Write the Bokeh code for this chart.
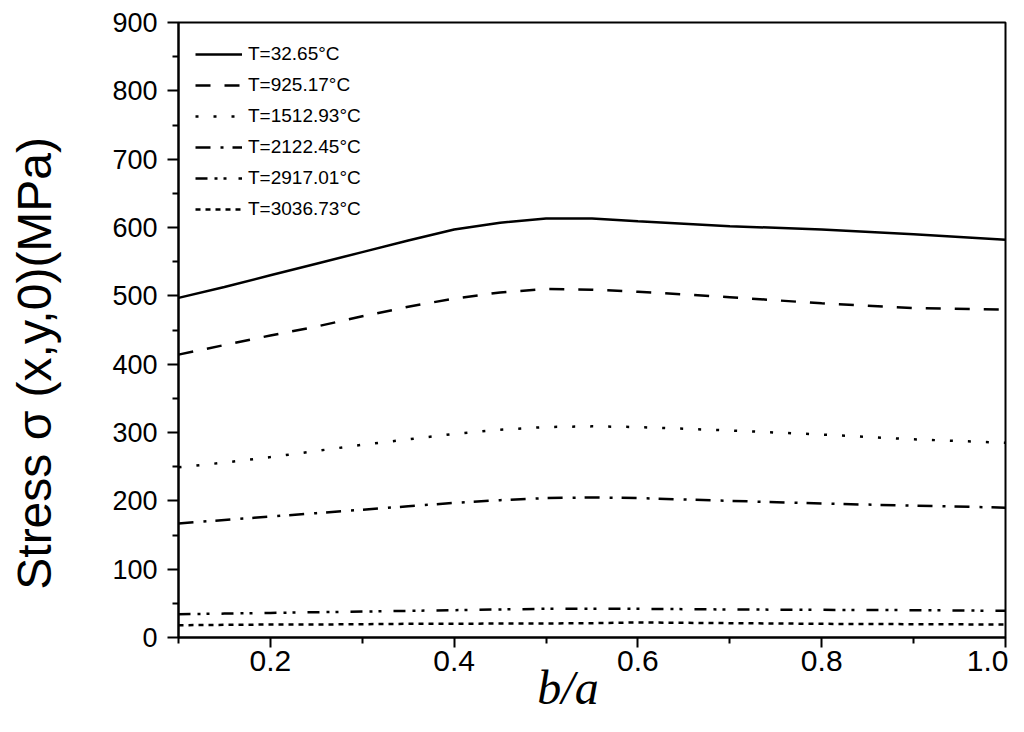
from bokeh.plotting import figure
from bokeh.models import FixedTicker, Legend, LegendItem, Range1d, PrintfTickFormatter
from bokeh.embed import file_html
from bokeh.resources import INLINE

# b/a ratio
ratio = [0.1, 0.15, 0.2, 0.25, 0.3, 0.35, 0.4, 0.45, 0.5, 0.55, 0.6, 0.7, 0.8, 0.9, 1.0]
# Stress (MPa) for each temperature
t_labels = ["T=32.65°C", "T=925.17°C", "T=1512.93°C", "T=2122.45°C", "T=2917.01°C", "T=3036.73°C"]
s_32 = [497, 513, 530, 547, 564, 581, 597, 607, 613, 613, 609, 602, 597, 590, 582]
s_925 = [414, 428, 442, 455, 470, 484, 496, 505, 510, 509, 506, 498, 489, 482, 480]
s_1512 = [249, 256, 264, 273, 282, 290, 298, 304, 308, 309, 308, 303, 297, 290, 285]
s_2122 = [167, 172, 177, 182, 187, 192, 197, 201, 204, 205, 204, 200, 196, 193, 190]
s_2917 = [34, 35, 36, 37, 38, 39, 40, 41, 42, 42, 42, 41, 40.5, 40, 39]
s_3036 = [18, 18.5, 19, 19, 19.5, 20, 20, 20.5, 20.5, 21, 22, 21, 20, 19.5, 19]
x_ticks = [0.2, 0.4, 0.6, 0.8, 1.0]
x_minor = [0.1, 0.3, 0.5, 0.7, 0.9]
y_ticks = [0, 100, 200, 300, 400, 500, 600, 700, 800, 900]
y_minor = [50, 150, 250, 350, 450, 550, 650, 750, 850]

series = [s_32, s_925, s_1512, s_2122, s_2917, s_3036]
dashes = ["solid", "15 14", "3 15", "15 10 3 9", "12 7 3 6 3 12", "5 5"]

p = figure(width=1008, height=716, output_backend="svg", toolbar_location=None,
           x_range=Range1d(0.1, 1.0), y_range=Range1d(0, 900),
           min_border_left=178, min_border_right=3, min_border_top=22, min_border_bottom=79)
p.grid.visible = False
p.background_fill_color = "white"
p.border_fill_color = "white"
p.outline_line_color = "black"
p.outline_line_width = 2
p.outline_line_alpha = 1

items = []
for lab, ys, d in zip(t_labels, series, dashes):
    r = p.line(ratio, ys, line_color="black", line_width=2.5, line_dash=d)
    items.append(LegendItem(label=lab, renderers=[r]))

legend = Legend(items=items, location="top_left")
legend.margin = 17
legend.padding = 10
legend.glyph_height = 30
legend.label_height = 30
legend.glyph_width = 47
legend.spacing = 1
legend.label_standoff = 6
legend.label_text_font = "Liberation Sans"
legend.label_text_font_size = "19px"
legend.label_text_color = "black"
legend.border_line_color = None
legend.background_fill_alpha = 0
p.add_layout(legend)

p.xaxis.ticker = FixedTicker(ticks=x_ticks, minor_ticks=x_minor)
p.yaxis.ticker = FixedTicker(ticks=y_ticks, minor_ticks=y_minor)
p.xaxis.formatter = PrintfTickFormatter(format="%.1f")
p.yaxis.formatter = PrintfTickFormatter(format="%d")

for ax in (p.xaxis, p.yaxis):
    ax.axis_line_color = "black"
    ax.axis_line_width = 2
    ax.major_tick_line_color = "black"
    ax.major_tick_line_width = 2
    ax.minor_tick_line_color = "black"
    ax.minor_tick_line_width = 2
    ax.major_tick_in = 0
    ax.minor_tick_in = 0
    ax.major_label_text_font = "Liberation Sans"
    ax.major_label_text_color = "black"

p.xaxis.major_tick_out = 10
p.xaxis.minor_tick_out = 6
p.xaxis.major_label_standoff = 3
p.xaxis.major_label_text_font_size = "30px"
p.xaxis.axis_label = "b/a" + "\u00a0" * 4
p.xaxis.axis_label_text_font = "Liberation Serif"
p.xaxis.axis_label_text_font_style = "italic"
p.xaxis.axis_label_text_font_size = "48px"
p.xaxis.axis_label_standoff = -13
p.xaxis.axis_label_text_color = "black"

p.yaxis.major_tick_out = 11
p.yaxis.minor_tick_out = 6
p.yaxis.major_label_standoff = 10
p.yaxis.major_label_text_font_size = "27px"
p.yaxis.axis_label = "Stress σ (x,y,0)(MPa)" + "\u00a0" * 5
p.yaxis.axis_label_text_font = "Liberation Sans"
p.yaxis.axis_label_text_font_style = "normal"
p.yaxis.axis_label_text_font_size = "48px"
p.yaxis.axis_label_standoff = 48
p.yaxis.axis_label_text_color = "black"

open("out.html", "w").write(file_html(p, INLINE))
